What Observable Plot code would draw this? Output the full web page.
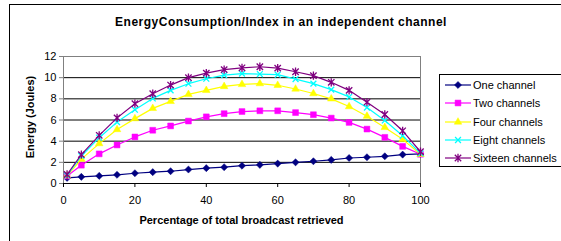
<!DOCTYPE html>
<html><head><meta charset="utf-8">
<script src="https://cdn.jsdelivr.net/npm/d3@7"></script>
<script src="https://cdn.jsdelivr.net/npm/@observablehq/plot@0.6"></script>
<style>
html,body{margin:0;padding:0;background:#fff;}
body{width:561px;height:241px;overflow:hidden;position:relative;font-family:"Liberation Sans",Arial,sans-serif;}
#frame{position:absolute;left:9px;top:4px;width:600px;height:300px;border:1px solid #000;box-sizing:border-box;}
#title{position:absolute;left:0;width:562px;top:15px;text-align:center;font-weight:bold;font-size:12px;letter-spacing:0.5px;}
#ylab{position:absolute;left:30px;top:117px;transform:translate(-50%,-50%) rotate(-90deg);font-weight:bold;font-size:11px;white-space:nowrap;}
#xlab{position:absolute;left:63px;width:357px;top:214px;text-align:center;font-weight:bold;font-size:11px;}
#chart{position:absolute;left:0;top:0;}
#legend{position:absolute;left:439px;top:74px;width:130px;height:93px;border:1px solid #000;box-sizing:border-box;background:#fff;}
.item{position:absolute;left:4px;height:14px;font-size:11px;line-height:14px;white-space:nowrap;}
.item svg{vertical-align:top;}
</style></head>
<body>
<div id="frame"></div>
<div id="chart"></div>
<div id="title">EnergyConsumption/Index in an independent channel</div>
<div id="ylab">Energy (Joules)</div>
<div id="xlab">Percentage of total broadcast retrieved</div>
<div id="legend"></div>
<script>
const xs = [1,5,10,15,20,25,30,35,40,45,50,55,60,65,70,75,80,85,90,95,100];
const oneChannel = [0.53,0.63,0.72,0.82,0.97,1.07,1.16,1.32,1.45,1.54,1.68,1.76,1.88,2.0,2.1,2.23,2.41,2.48,2.57,2.73,2.79];
const twoChannels = [0.7,1.73,2.8,3.64,4.4,5.03,5.44,5.9,6.3,6.6,6.8,6.87,6.87,6.7,6.5,6.18,5.77,5.14,4.36,3.51,2.76];
const fourChannels = [0.72,2.3,3.77,5.1,6.13,7.1,7.76,8.42,8.8,9.17,9.36,9.44,9.28,8.93,8.5,8.0,7.27,6.36,5.3,4.17,2.76];
const eightChannels = [0.77,2.6,4.33,5.8,6.97,8.04,8.8,9.43,9.9,10.24,10.38,10.34,10.28,9.87,9.44,8.87,8.18,7.18,5.96,4.51,2.85];
const sixteenChannels = [0.85,2.73,4.55,6.2,7.54,8.48,9.3,10.0,10.43,10.76,10.93,11.03,10.9,10.56,10.19,9.56,8.8,7.68,6.52,4.98,3.0];
const seriesNames = ["One channel","Two channels","Four channels","Eight channels","Sixteen channels"];
const xTicks = [0,20,40,60,80,100];
const yTicks = [0,2,4,6,8,10,12];

const colors = ["#000080","#FF00FF","#FFFF00","#00FFFF","#800080"];
const starSym = {draw(ctx, size){const r=Math.sqrt(size)/2; ctx.moveTo(-r,-r);ctx.lineTo(r,r);ctx.moveTo(-r,r);ctx.lineTo(r,-r);ctx.moveTo(0,-r*1.3);ctx.lineTo(0,r*1.3);}};
const timesSym = {draw(ctx, size){const r=Math.sqrt(size)/2; ctx.moveTo(-r,-r);ctx.lineTo(r,r);ctx.moveTo(-r,r);ctx.lineTo(r,-r);}};
const symbols = ["diamond2","square","triangle2",timesSym,starSym];
const filled = [true,true,true,false,false];
const sizes = [3.2,3.3,3.6,3.3,3.6];
const allValues = [oneChannel,twoChannels,fourChannels,eightChannels,sixteenChannels];

const marks = [
  Plot.ruleY(yTicks.filter(v=>v>0 && v<12), {stroke:"#000", strokeWidth:1}),
  Plot.frame({stroke:"#808080"}),
  Plot.ruleX([0], {stroke:"#808080"}),
  Plot.ruleY([0], {stroke:"#000"}),
  Plot.axisX({ticks:xTicks, tickSize:4, tickPadding:9, fontSize:11, label:null, stroke:"#000"}),
  Plot.axisY({ticks:yTicks, tickSize:4, tickPadding:3, fontSize:11, label:null, stroke:"#808080"})
];
allValues.forEach((vals,i)=>{
  const data = xs.map((x,j)=>({x, y:vals[j]}));
  marks.push(Plot.line(data,{x:"x",y:"y",stroke:colors[i],strokeWidth:1.2}));
  marks.push(Plot.dot(data,{x:"x",y:"y",symbol:()=>symbols[i],r:sizes[i],
    fill: filled[i]?colors[i]:"none", stroke: colors[i], strokeWidth: filled[i]?0.5:1.3}));
});

const chart = Plot.plot({
  width:561, height:241,
  marginLeft:63, marginRight:141, marginTop:56, marginBottom:58,
  x:{domain:[0,100]},
  y:{domain:[0,12]},
  symbol:{type:"identity"},
  style:{fontFamily:"Liberation Sans, Arial, sans-serif", fontSize:"11px", color:"#000", background:"transparent"},
  marks
});
document.getElementById("chart").appendChild(chart);

// legend
const leg = document.getElementById("legend");
seriesNames.forEach((name,i)=>{
  const div = document.createElement("div");
  div.className="item";
  div.style.top = (3 + i*18.3) + "px";
  const s = d3.create("svg").attr("width",28).attr("height",14);
  s.append("line").attr("x1",1).attr("x2",27).attr("y1",7).attr("y2",7).attr("stroke",colors[i]).attr("stroke-width",1.2);
  const sym = typeof symbols[i]==="string" ? {diamond2:d3.symbolDiamond2,square:d3.symbolSquare,triangle2:d3.symbolTriangle2}[symbols[i]] : symbols[i];
  s.append("path").attr("transform","translate(14,7)")
    .attr("d", d3.symbol(sym, Math.PI*sizes[i]*sizes[i])())
    .attr("fill", filled[i]?colors[i]:"none").attr("stroke",colors[i]).attr("stroke-width",filled[i]?0.5:1.3);
  div.appendChild(s.node());
  const t = document.createElement("span"); t.textContent = name; t.style.marginLeft="1px";
  div.appendChild(t);
  leg.appendChild(div);
});
</script>
</body></html>
